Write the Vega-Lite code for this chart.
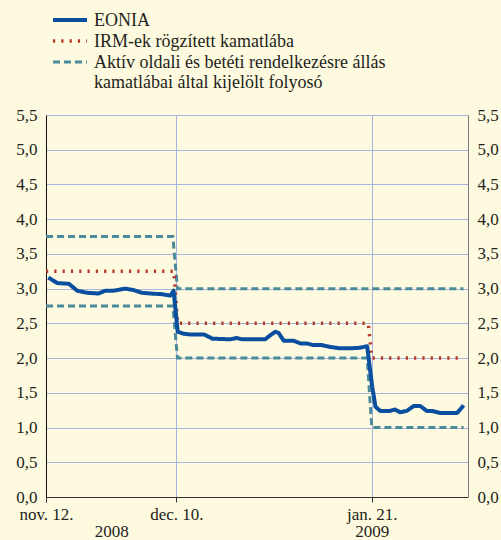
{
  "$schema": "https://vega.github.io/schema/vega-lite/v6.json",
  "width": 422,
  "height": 382,
  "autosize": "none",
  "padding": {"left": 46, "top": 115, "right": 33, "bottom": 43},
  "background": "#fefadf",
  "config": {
    "view": {"stroke": null},
    "font": "Liberation Serif, DejaVu Serif, Times New Roman, serif",
    "axis": {"labelFont": "Liberation Serif, DejaVu Serif, Times New Roman, serif", "labelFontSize": 17, "labelColor": "#231f20"},
    "legend": {"labelFont": "Liberation Serif, DejaVu Serif, Times New Roman, serif", "labelFontSize": 18, "labelColor": "#231f20"}
  },
  "data": {
    "values": [
      {"series": "Aktív oldali és betéti rendelkezésre állás kamatlábai által kijelölt folyosó", "band": "upper", "date": "2008-11-12T00:00", "value": 3.75},
      {"series": "Aktív oldali és betéti rendelkezésre állás kamatlábai által kijelölt folyosó", "band": "upper", "date": "2008-12-09T06:00", "value": 3.75},
      {"series": "Aktív oldali és betéti rendelkezésre állás kamatlábai által kijelölt folyosó", "band": "upper", "date": "2008-12-10T06:00", "value": 3.0},
      {"series": "Aktív oldali és betéti rendelkezésre állás kamatlábai által kijelölt folyosó", "band": "upper", "date": "2009-02-09T17:00", "value": 3.0},
      {"series": "Aktív oldali és betéti rendelkezésre állás kamatlábai által kijelölt folyosó", "band": "lower", "date": "2008-11-12T00:00", "value": 2.75},
      {"series": "Aktív oldali és betéti rendelkezésre állás kamatlábai által kijelölt folyosó", "band": "lower", "date": "2008-12-09T06:00", "value": 2.75},
      {"series": "Aktív oldali és betéti rendelkezésre állás kamatlábai által kijelölt folyosó", "band": "lower", "date": "2008-12-10T06:00", "value": 2.0},
      {"series": "Aktív oldali és betéti rendelkezésre állás kamatlábai által kijelölt folyosó", "band": "lower", "date": "2009-01-20T00:00", "value": 2.0},
      {"series": "Aktív oldali és betéti rendelkezésre állás kamatlábai által kijelölt folyosó", "band": "lower", "date": "2009-01-21T00:00", "value": 1.0},
      {"series": "Aktív oldali és betéti rendelkezésre állás kamatlábai által kijelölt folyosó", "band": "lower", "date": "2009-02-09T17:00", "value": 1.0},
      {"series": "IRM-ek rögzített kamatlába", "band": "main", "date": "2008-11-12T00:00", "value": 3.25},
      {"series": "IRM-ek rögzített kamatlába", "band": "main", "date": "2008-12-09T12:00", "value": 3.25},
      {"series": "IRM-ek rögzített kamatlába", "band": "main", "date": "2008-12-10T06:00", "value": 2.5},
      {"series": "IRM-ek rögzített kamatlába", "band": "main", "date": "2009-01-20T06:00", "value": 2.5},
      {"series": "IRM-ek rögzített kamatlába", "band": "main", "date": "2009-01-21T00:00", "value": 2.0},
      {"series": "IRM-ek rögzített kamatlába", "band": "main", "date": "2009-02-09T17:00", "value": 2.0},
      {"series": "EONIA", "band": "main", "date": "2008-11-12T12:00", "value": 3.16},
      {"series": "EONIA", "band": "main", "date": "2008-11-14T10:00", "value": 3.08},
      {"series": "EONIA", "band": "main", "date": "2008-11-16T22:00", "value": 3.07},
      {"series": "EONIA", "band": "main", "date": "2008-11-18T17:00", "value": 2.97},
      {"series": "EONIA", "band": "main", "date": "2008-11-20T19:00", "value": 2.94},
      {"series": "EONIA", "band": "main", "date": "2008-11-23T07:00", "value": 2.93},
      {"series": "EONIA", "band": "main", "date": "2008-11-24T17:00", "value": 2.97},
      {"series": "EONIA", "band": "main", "date": "2008-11-26T12:00", "value": 2.97},
      {"series": "EONIA", "band": "main", "date": "2008-11-29T00:00", "value": 3.0},
      {"series": "EONIA", "band": "main", "date": "2008-11-30T19:00", "value": 2.98},
      {"series": "EONIA", "band": "main", "date": "2008-12-02T14:00", "value": 2.94},
      {"series": "EONIA", "band": "main", "date": "2008-12-04T10:00", "value": 2.93},
      {"series": "EONIA", "band": "main", "date": "2008-12-06T22:00", "value": 2.92},
      {"series": "EONIA", "band": "main", "date": "2008-12-08T17:00", "value": 2.9},
      {"series": "EONIA", "band": "main", "date": "2008-12-09T10:00", "value": 2.97},
      {"series": "EONIA", "band": "main", "date": "2008-12-10T07:00", "value": 2.38},
      {"series": "EONIA", "band": "main", "date": "2008-12-11T14:00", "value": 2.35},
      {"series": "EONIA", "band": "main", "date": "2008-12-13T00:00", "value": 2.34},
      {"series": "EONIA", "band": "main", "date": "2008-12-15T22:00", "value": 2.34},
      {"series": "EONIA", "band": "main", "date": "2008-12-16T14:00", "value": 2.32},
      {"series": "EONIA", "band": "main", "date": "2008-12-17T17:00", "value": 2.28},
      {"series": "EONIA", "band": "main", "date": "2008-12-21T14:00", "value": 2.27},
      {"series": "EONIA", "band": "main", "date": "2008-12-23T00:00", "value": 2.29},
      {"series": "EONIA", "band": "main", "date": "2008-12-24T02:00", "value": 2.27},
      {"series": "EONIA", "band": "main", "date": "2008-12-29T02:00", "value": 2.27},
      {"series": "EONIA", "band": "main", "date": "2008-12-30T05:00", "value": 2.33},
      {"series": "EONIA", "band": "main", "date": "2008-12-31T07:00", "value": 2.38},
      {"series": "EONIA", "band": "main", "date": "2009-01-01T00:00", "value": 2.36},
      {"series": "EONIA", "band": "main", "date": "2009-01-02T02:00", "value": 2.25},
      {"series": "EONIA", "band": "main", "date": "2009-01-04T05:00", "value": 2.25},
      {"series": "EONIA", "band": "main", "date": "2009-01-05T17:00", "value": 2.21},
      {"series": "EONIA", "band": "main", "date": "2009-01-07T02:00", "value": 2.21},
      {"series": "EONIA", "band": "main", "date": "2009-01-08T05:00", "value": 2.19},
      {"series": "EONIA", "band": "main", "date": "2009-01-10T00:00", "value": 2.19},
      {"series": "EONIA", "band": "main", "date": "2009-01-12T02:00", "value": 2.16},
      {"series": "EONIA", "band": "main", "date": "2009-01-14T05:00", "value": 2.14},
      {"series": "EONIA", "band": "main", "date": "2009-01-16T10:00", "value": 2.14},
      {"series": "EONIA", "band": "main", "date": "2009-01-18T12:00", "value": 2.15},
      {"series": "EONIA", "band": "main", "date": "2009-01-20T00:00", "value": 2.17},
      {"series": "EONIA", "band": "main", "date": "2009-01-21T02:00", "value": 1.59},
      {"series": "EONIA", "band": "main", "date": "2009-01-21T19:00", "value": 1.3},
      {"series": "EONIA", "band": "main", "date": "2009-01-22T19:00", "value": 1.24},
      {"series": "EONIA", "band": "main", "date": "2009-01-24T22:00", "value": 1.24},
      {"series": "EONIA", "band": "main", "date": "2009-01-26T00:00", "value": 1.26},
      {"series": "EONIA", "band": "main", "date": "2009-01-27T02:00", "value": 1.22},
      {"series": "EONIA", "band": "main", "date": "2009-01-28T12:00", "value": 1.24},
      {"series": "EONIA", "band": "main", "date": "2009-01-30T00:00", "value": 1.31},
      {"series": "EONIA", "band": "main", "date": "2009-01-31T10:00", "value": 1.31},
      {"series": "EONIA", "band": "main", "date": "2009-02-01T19:00", "value": 1.24},
      {"series": "EONIA", "band": "main", "date": "2009-02-02T22:00", "value": 1.24},
      {"series": "EONIA", "band": "main", "date": "2009-02-04T17:00", "value": 1.21},
      {"series": "EONIA", "band": "main", "date": "2009-02-06T12:00", "value": 1.21},
      {"series": "EONIA", "band": "main", "date": "2009-02-08T07:00", "value": 1.21},
      {"series": "EONIA", "band": "main", "date": "2009-02-09T00:00", "value": 1.26},
      {"series": "EONIA", "band": "main", "date": "2009-02-09T17:00", "value": 1.32}
    ]
  },
  "layer": [
    {
      "encoding": {
        "x": {
          "field": "date",
          "type": "temporal",
          "scale": {"domain": [{"year": 2008, "month": 11, "date": 12}, {"year": 2009, "month": 2, "date": 10, "hours": 16}]},
          "axis": {
            "title": null,
            "values": [
              {"year": 2008, "month": 11, "date": 12},
              {"year": 2008, "month": 11, "date": 26},
              {"year": 2008, "month": 12, "date": 10},
              {"year": 2009, "month": 1, "date": 21}
            ],
            "labelExpr": "month(datum.value)==10 && date(datum.value)==12 ? 'nov. 12.' : month(datum.value)==11 ? 'dec. 10.' : month(datum.value)==0 ? ['jan. 21.','2009'] : ['','2008']",
            "labelOverlap": false,
            "labelFlush": false,
            "labelAlign": "center",
            "labelLineHeight": 17,
            "labelPadding": 4,
            "labelBaseline": "top",
            "tickSize": 5,
            "tickColor": "#333333",
            "tickOpacity": {"condition": {"test": "month(datum.value)==10 && date(datum.value)==26", "value": 0}, "value": 1},
            "domainColor": "#333333",
            "grid": true,
            "gridColor": "#a9b5df",
            "gridOpacity": {"condition": {"test": "month(datum.value)==10 && date(datum.value)==26", "value": 0}, "value": 1}
          }
        },
        "y": {
          "field": "value",
          "type": "quantitative",
          "scale": {"domain": [0, 5.5], "nice": false},
          "axis": {
            "title": null,
            "orient": "left",
            "values": [0, 0.5, 1, 1.5, 2, 2.5, 3, 3.5, 4, 4.5, 5, 5.5],
            "labelExpr": "replace(format(datum.value, '.1f'), '.', ',')",
            "tickSize": 0,
            "labelPadding": 9,
            "domainColor": "#111111",
            "grid": true,
            "gridColor": "#a9b5df"
          }
        },
        "color": {
          "field": "series",
          "type": "nominal",
          "scale": {
            "domain": ["EONIA", "IRM-ek rögzített kamatlába", "Aktív oldali és betéti rendelkezésre állás kamatlábai által kijelölt folyosó"],
            "range": ["#0a4f9f", "#b5372c", "#4b8a9b"]
          },
          "legend": {
            "title": null,
            "orient": "none",
            "legendX": 15,
            "legendY": -98,
            "symbolType": "M-17,-6H17",
            "symbolSize": 4,
            "labelOffset": 15,
            "labelBaseline": "alphabetic",
            "labelLineHeight": 22,
            "rowPadding": 3,
            "labelLimit": 450,
            "labelExpr": "indexof(datum.label, 'folyosó') > 0 ? ['Aktív oldali és betéti rendelkezésre állás', 'kamatlábai által kijelölt folyosó'] : datum.label"
          }
        },
        "strokeDash": {
          "field": "series",
          "type": "nominal",
          "scale": {
            "domain": ["EONIA", "IRM-ek rögzített kamatlába", "Aktív oldali és betéti rendelkezésre állás kamatlábai által kijelölt folyosó"],
            "range": [[1, 0], [2.2, 6.1], [7, 4]]
          }
        },
        "strokeWidth": {
          "field": "series",
          "type": "nominal",
          "scale": {
            "domain": ["EONIA", "IRM-ek rögzített kamatlába", "Aktív oldali és betéti rendelkezésre állás kamatlábai által kijelölt folyosó"],
            "range": [4, 3, 3.5]
          }
        },
        "detail": {"field": "band", "type": "nominal"}
      },
      "layer": [
        {
          "transform": [{"filter": "indexof(datum.series, 'folyosó') > 0"}],
          "mark": {"type": "line"}
        },
        {
          "transform": [{"filter": "datum.series == 'IRM-ek rögzített kamatlába'"}],
          "mark": {"type": "line"}
        },
        {
          "transform": [{"filter": "datum.series == 'EONIA'"}],
          "mark": {"type": "line", "strokeJoin": "round"}
        }
      ]
    },
    {
      "mark": {"type": "rule", "opacity": 0},
      "encoding": {
        "y": {
          "datum": 0,
          "type": "quantitative",
          "scale": {"domain": [0, 5.5], "nice": false},
          "axis": {
            "title": null,
            "orient": "right",
            "values": [0, 0.5, 1, 1.5, 2, 2.5, 3, 3.5, 4, 4.5, 5, 5.5],
            "labelExpr": "replace(format(datum.value, '.1f'), '.', ',')",
            "tickSize": 0,
            "labelPadding": 9,
            "domainColor": "#7a7a7a",
            "grid": false
          }
        }
      }
    }
  ],
  "resolve": {"axis": {"y": "independent"}}
}
